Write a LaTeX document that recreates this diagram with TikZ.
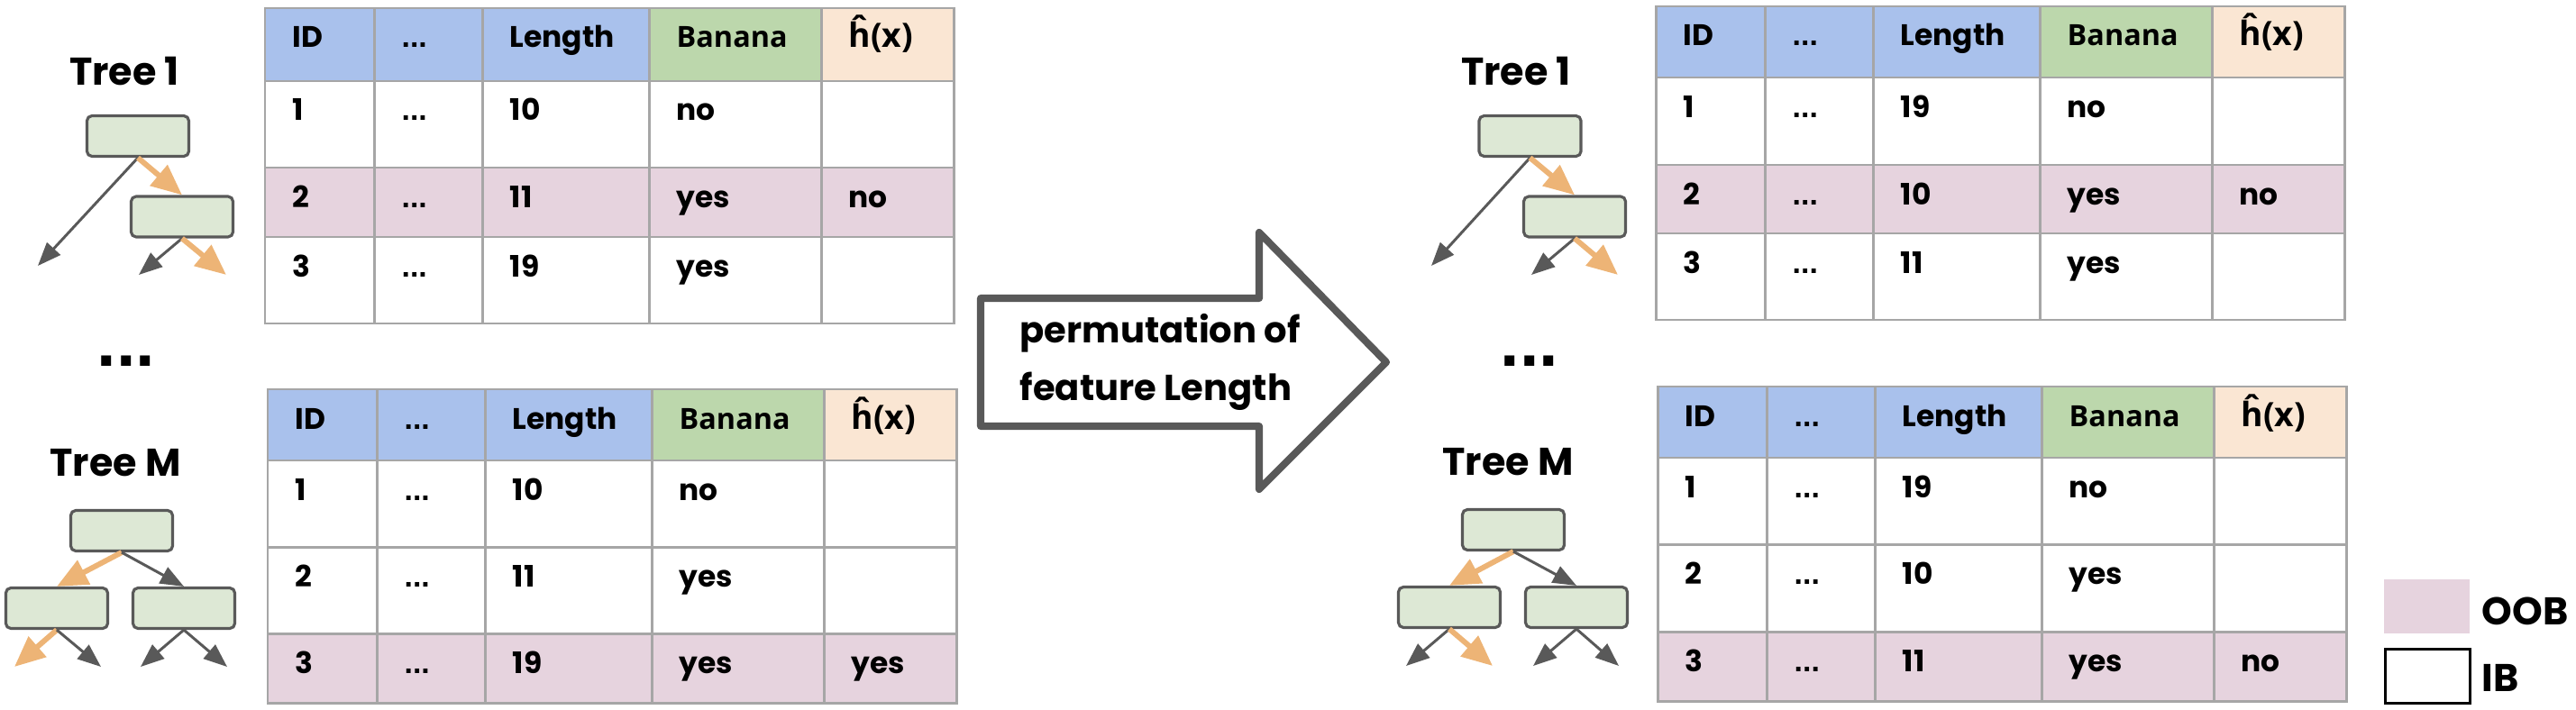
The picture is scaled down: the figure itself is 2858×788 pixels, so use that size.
\documentclass[tikz,border=0pt]{standalone}
\usepackage{fontspec}
\setmainfont{Poppins}
\newfontfamily\osans{Open Sans}
\newfontfamily\lsans{Liberation Sans}
\usetikzlibrary{arrows.meta}
\definecolor{hblue}{HTML}{A9C1EC}
\definecolor{hgreen}{HTML}{BCD7AC}
\definecolor{horange}{HTML}{FAE6D3}
\definecolor{oobpink}{HTML}{E6D3DE}
\definecolor{boxgreen}{HTML}{DDE8D5}
\definecolor{dgray}{HTML}{595959}
\definecolor{gridgray}{HTML}{A6A6A6}
\definecolor{orng}{HTML}{EDB476}
\tikzset{
  grid/.style={draw=gridgray,line width=0.85pt},
  ctext/.style={anchor=base west,inner sep=0pt,font=\fontsize{9.35pt}{11pt}\selectfont\bfseries},
  dtext/.style={anchor=base west,inner sep=0pt,font=\lsans\fontsize{9.6pt}{11pt}\selectfont\bfseries},
  htext/.style={anchor=base west,inner sep=0pt,font=\osans\fontsize{9.2pt}{11pt}\selectfont\bfseries},
  hxtext/.style={anchor=base west,inner sep=0pt,font=\osans\fontsize{10.6pt}{12pt}\selectfont\bfseries},
  treelabel/.style={anchor=base,inner sep=0pt,font=\fontsize{12.2pt}{14pt}\selectfont\bfseries},
  bigdots/.style={anchor=base,inner sep=0pt,font=\lsans\fontsize{22pt}{24pt}\selectfont\bfseries},
  tbox/.style={draw=dgray,fill=boxgreen,line width=0.9pt,rounded corners=1.6pt,minimum width=1.13cm,minimum height=0.45cm,inner sep=0pt},
  garrow/.style={draw=dgray,line width=0.85pt,-{Triangle[length=0.26cm,width=0.2cm]}},
  oarrow/.style={draw=orng,line width=1.7pt,-{Triangle[length=0.34cm,width=0.29cm]}},
  bigarrow/.style={draw=dgray,line width=2.3pt,line join=round,fill=white},
  permtext/.style={anchor=base west,inner sep=0pt,font=\fontsize{11.4pt}{13pt}\selectfont\bfseries},
  legtext/.style={anchor=base west,inner sep=0pt,font=\fontsize{12.2pt}{14pt}\selectfont\bfseries}
}
\newcommand\tablegrid[4]{%
  \fill[hblue] (0,0) rectangle (426,#1);
  \fill[hgreen] (426,0) rectangle (617,#1);
  \fill[horange] (617,0) rectangle (764,#1);
  \foreach \xx in {121,241,426,617} \draw[grid] (\xx,0) -- (\xx,#4);
  \foreach \yy in {#1,#2,#3} \draw[grid] (0,\yy) -- (764,\yy);
  \draw[grid] (0,0) rectangle (764,#4);
}
\newcommand\tableheader[1]{%
  \node[ctext] (#1h1) at (30,44) {ID};
  \node[dtext] (#1h2) at (151,44) {...};
  \node[ctext] (#1h3) at (271,44) {Length};
  \node[htext] (#1h4) at (456,44) {Banana};
  \node[hxtext] (#1h5) at (647,44) {ĥ(x)};
}
\newcommand\datarow[7]{%
  \node[ctext] (#1a) at (30,#2) {#3};
  \node[dtext] (#1b) at (151,#2) {#4};
  \node[ctext] (#1c) at (271,#2) {#5};
  \node[ctext] (#1d) at (456,#2) {#6};
  \node[ctext] (#1e) at (647,#2) {#7};
}
\begin{document}
\begin{tikzpicture}[x=0.01cm,y=-0.01cm]
\useasboundingbox (0,0) rectangle (2858,788);

% ---------- Left top table ----------
\begin{scope}[shift={(294,9)}]
  \fill[oobpink] (0,177) rectangle (764,254);
  \tablegrid{81}{177}{254}{350}
  \tableheader{ta}
  \datarow{tar1}{125}{1}{...}{10}{no}{}
  \datarow{tar2}{221}{2}{...}{11}{yes}{no}
  \datarow{tar3}{298}{3}{...}{19}{yes}{}
\end{scope}

% ---------- Left bottom table ----------
\begin{scope}[shift={(297,432)}]
  \fill[oobpink] (0,271) rectangle (764,348);
  \tablegrid{79}{175}{271}{348}
  \tableheader{tb}
  \datarow{tbr1}{123}{1}{...}{10}{no}{}
  \datarow{tbr2}{219}{2}{...}{11}{yes}{}
  \datarow{tbr3}{315}{3}{...}{19}{yes}{yes}
\end{scope}

% ---------- Right top table ----------
\begin{scope}[shift={(1837,7)}]
  \fill[oobpink] (0,176) rectangle (764,252);
  \tablegrid{79}{176}{252}{348}
  \tableheader{tc}
  \datarow{tcr1}{123}{1}{...}{19}{no}{}
  \datarow{tcr2}{220}{2}{...}{10}{yes}{no}
  \datarow{tcr3}{296}{3}{...}{11}{yes}{}
\end{scope}

% ---------- Right bottom table ----------
\begin{scope}[shift={(1839,429)}]
  \fill[oobpink] (0,272) rectangle (764,349);
  \tablegrid{79}{175}{272}{349}
  \tableheader{td}
  \datarow{tdr1}{123}{1}{...}{19}{no}{}
  \datarow{tdr2}{219}{2}{...}{10}{yes}{}
  \datarow{tdr3}{316}{3}{...}{11}{yes}{no}
\end{scope}

% ---------- Left Tree 1 ----------
\node[treelabel] (lt1) at (138,95) {Tree 1};
\node[tbox] (l1root) at (153,151) {};
\node[tbox] (l1child) at (202,240.5) {};
\coordinate (l1e1) at (42,295);
\coordinate (l1e2) at (154,305);
\coordinate (l1e3) at (251,305);
\draw[garrow] (l1root.south) -- (l1e1);
\draw[oarrow] (l1root.south) -- (l1child.north);
\draw[garrow] (l1child.south) -- (l1e2);
\draw[oarrow] (l1child.south) -- (l1e3);

\node[bigdots] (ldots) at (140,406) {...};

% ---------- Left Tree M ----------
\node[treelabel] (ltm) at (128,528) {Tree M};
\node[tbox] (lmroot) at (135,589) {};
\node[tbox] (lmleft) at (63,675) {};
\node[tbox] (lmright) at (204,675) {};
\coordinate (lme1) at (16,740);
\coordinate (lme2) at (112,740);
\coordinate (lme3) at (156,740);
\coordinate (lme4) at (252,740);
\draw[oarrow] (lmroot.south) -- (lmleft.north);
\draw[garrow] (lmroot.south) -- (lmright.north);
\draw[oarrow] (lmleft.south) -- (lme1);
\draw[garrow] (lmleft.south) -- (lme2);
\draw[garrow] (lmright.south) -- (lme3);
\draw[garrow] (lmright.south) -- (lme4);

% ---------- Big arrow ----------
\draw[bigarrow] (1088,331) -- (1397,331) -- (1397,258) -- (1538,402) -- (1397,543) -- (1397,473) -- (1088,473) -- cycle;
\node[permtext] (perm1) at (1131,380) {permutation of};
\node[permtext] (perm2) at (1131,444) {feature Length};

% ---------- Right Tree 1 ----------
\node[treelabel] (rt1) at (1682,95) {Tree 1};
\node[tbox] (r1root) at (1697.5,151) {};
\node[tbox] (r1child) at (1747,240.5) {};
\coordinate (r1e1) at (1588,295);
\coordinate (r1e2) at (1699,305);
\coordinate (r1e3) at (1795,305);
\draw[garrow] (r1root.south) -- (r1e1);
\draw[oarrow] (r1root.south) -- (r1child.north);
\draw[garrow] (r1child.south) -- (r1e2);
\draw[oarrow] (r1child.south) -- (r1e3);

\node[bigdots] (rdots) at (1697,406) {...};

% ---------- Right Tree M ----------
\node[treelabel] (rtm) at (1673,527) {Tree M};
\node[tbox] (rmroot) at (1679,588) {};
\node[tbox] (rmleft) at (1608,674) {};
\node[tbox] (rmright) at (1749,674) {};
\coordinate (rme1) at (1560,739);
\coordinate (rme2) at (1656,739);
\coordinate (rme3) at (1701,739);
\coordinate (rme4) at (1796,739);
\draw[oarrow] (rmroot.south) -- (rmleft.north);
\draw[garrow] (rmroot.south) -- (rmright.north);
\draw[garrow] (rmleft.south) -- (rme1);
\draw[oarrow] (rmleft.south) -- (rme2);
\draw[garrow] (rmright.south) -- (rme3);
\draw[garrow] (rmright.south) -- (rme4);

% ---------- Legend ----------
\fill[oobpink] (2645,643) rectangle (2740,703);
\draw[black,line width=0.85pt] (2646,720) rectangle (2740,780);
\node[legtext] (oob) at (2753,693) {OOB};
\node[legtext] (ib) at (2753,767) {IB};
\end{tikzpicture}
\end{document}
